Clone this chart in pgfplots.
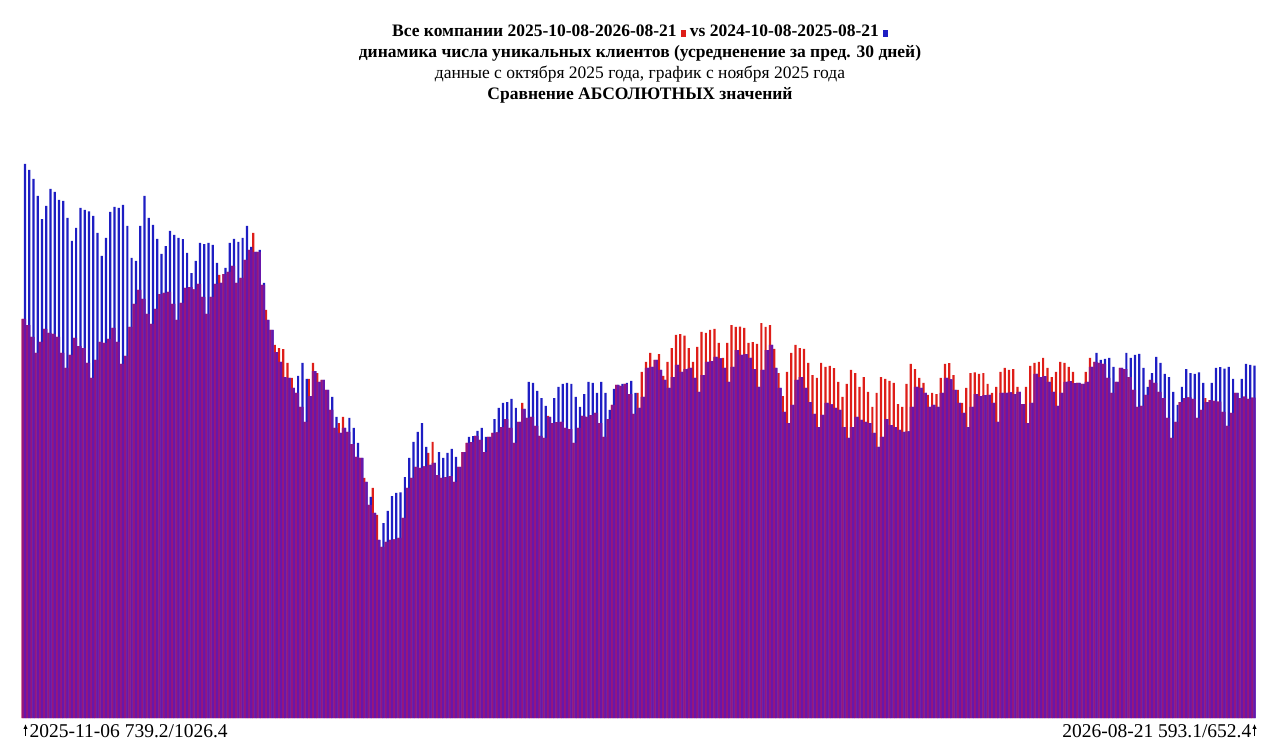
\documentclass[border=0pt]{standalone}
\usepackage{fontspec}
\setmainfont{Liberation Serif}
\usepackage{pgfplots}
\usepackage{pgfplotstable}
\pgfplotsset{compat=1.18}
\usetikzlibrary{arrows.meta}
\definecolor{cRed}{RGB}{222,30,25}
\definecolor{cBlue}{RGB}{30,30,195}
\definecolor{cPurA}{RGB}{150,22,125}
\definecolor{cPurB}{RGB}{105,22,170}
\pgfplotstableread{
i r b
0 739.2 1026.4
1 727.8 1014.9
2 705.6 998.2
3 676.0 966.7
4 696.4 924.1
5 720.4 948.2
6 713.0 979.7
7 711.2 974.2
8 705.6 959.3
9 676.0 957.5
10 648.2 926.0
11 672.3 883.4
12 703.8 907.5
13 688.9 944.5
14 685.2 940.8
15 657.5 938.0
16 629.7 929.7
17 663.0 898.2
18 696.4 855.6
19 694.5 889.0
20 701.9 937.1
21 722.3 946.4
22 696.4 944.5
23 655.6 950.1
24 670.4 911.2
25 724.1 851.9
26 766.7 846.4
27 792.7 911.2
28 776.0 966.7
29 748.2 926.0
30 729.7 913.0
31 757.5 887.1
32 785.2 859.3
33 787.1 874.1
34 789.0 901.9
35 766.7 894.5
36 737.1 889.0
37 768.6 887.0
38 796.4 861.2
39 798.0 824.1
40 794.0 846.4
41 803.8 879.7
42 779.7 877.8
43 748.2 879.7
44 779.7 876.0
45 803.8 842.7
46 820.4 805.6
47 822.0 833.4
48 826.0 879.7
49 837.1 887.1
50 805.6 881.6
51 814.9 889.0
52 848.2 911.2
53 866.7 872.3
54 898.2 863.0
55 863.0 866.7
56 801.9 805.6
57 755.6 737.1
58 718.6 718.6
59 690.8 677.8
60 685.2 659.3
61 683.0 631.5
62 657.5 629.7
63 629.7 611.2
64 601.9 633.4
65 576.0 657.5
66 548.2 627.8
67 627.8 596.3
68 657.5 642.6
69 638.9 622.3
70 626.0 626.0
71 607.5 607.5
72 570.4 594.5
73 537.1 557.5
74 546.3 527.8
75 557.5 537.1
76 529.7 555.6
77 507.4 537.1
78 483.4 509.3
79 481.5 481.5
80 444.5 437.1
81 394.5 409.3
82 426.0 379.7
83 376.0 329.7
84 316.7 361.1
85 326.0 383.4
86 329.7 411.1
87 331.0 416.7
88 333.4 418.0
89 370.4 446.3
90 426.0 481.5
91 444.5 511.2
92 464.9 529.7
93 463.0 546.3
94 466.0 501.9
95 490.8 468.6
96 511.2 472.3
97 450.0 492.6
98 444.5 481.5
99 446.3 490.8
100 448.0 498.2
101 437.1 483.4
102 464.9 464.9
103 492.6 492.6
104 509.3 520.4
105 511.0 522.0
106 522.3 531.5
107 514.9 537.1
108 492.6 520.4
109 520.4 520.4
110 527.8 553.7
111 529.0 574.1
112 538.9 583.4
113 553.7 585.2
114 537.1 590.8
115 509.3 574.1
116 548.2 548.2
117 583.4 572.3
118 555.6 622.3
119 557.5 620.4
120 540.8 605.6
121 522.3 592.6
122 518.6 577.8
123 559.3 557.5
124 546.3 592.6
125 548.0 613.0
126 548.2 618.6
127 537.1 620.4
128 535.2 618.6
129 509.3 594.5
130 537.1 576.0
131 559.3 600.0
132 557.5 622.3
133 561.0 620.4
134 564.9 601.9
135 546.3 622.3
136 520.4 601.9
137 553.7 570.4
138 579.7 609.3
139 616.7 616.7
140 614.9 618.6
141 618.6 620.4
142 600.0 624.1
143 563.0 601.9
144 601.9 574.1
145 640.8 594.5
146 659.3 648.2
147 676.0 650.1
148 663.0 663.0
149 674.0 644.5
150 633.4 626.0
151 659.3 611.2
152 685.2 631.5
153 709.3 653.8
154 711.0 640.8
155 708.0 646.3
156 685.2 648.2
157 659.3 629.7
158 687.1 603.8
159 714.9 635.2
160 713.0 659.3
161 718.6 661.0
162 720.4 668.6
163 694.5 666.0
164 666.7 648.2
165 694.5 622.3
166 727.8 650.1
167 724.1 681.5
168 725.0 672.3
169 722.3 674.0
170 694.5 666.7
171 696.0 646.3
172 693.0 613.0
173 731.5 644.5
174 724.1 681.5
175 727.8 690.8
176 683.4 648.2
177 638.9 611.2
178 596.3 566.7
179 640.8 546.3
180 676.0 579.7
181 690.8 626.0
182 685.2 631.5
183 683.4 611.2
184 657.5 585.2
185 635.2 563.0
186 629.7 538.9
187 657.5 561.2
188 650.1 583.4
189 652.0 581.0
190 648.0 574.1
191 622.3 570.4
192 594.5 538.9
193 618.6 518.6
194 644.5 538.9
195 638.9 557.5
196 613.0 551.9
197 631.5 548.2
198 603.8 546.0
199 576.0 527.8
200 601.9 501.9
201 631.5 520.4
202 627.8 553.7
203 624.1 542.6
204 620.4 538.9
205 581.5 533.4
206 576.0 529.7
207 618.6 531.0
208 655.6 576.0
209 646.3 613.0
210 629.7 611.2
211 620.4 601.9
212 598.2 576.0
213 601.9 579.7
214 600.0 576.0
215 629.7 601.9
216 655.6 629.7
217 657.0 627.0
218 635.2 607.5
219 607.5 583.4
220 583.4 564.9
221 611.2 538.9
222 638.9 576.0
223 640.0 600.0
224 637.1 596.3
225 638.9 598.0
226 618.6 598.2
227 601.9 583.4
228 613.0 548.2
229 640.8 601.9
230 648.2 601.9
231 644.5 603.0
232 646.3 600.0
233 613.0 603.8
234 581.5 581.5
235 613.0 546.3
236 651.9 583.4
237 657.5 637.1
238 659.3 631.5
239 666.7 633.0
240 648.2 622.3
241 631.5 603.8
242 640.8 577.8
243 659.3 601.9
244 657.5 622.3
245 650.1 624.0
246 640.8 620.0
247 620.4 620.4
248 618.6 619.0
249 640.8 622.3
250 666.7 650.1
251 659.3 676.0
252 657.5 663.0
253 656.0 665.0
254 629.7 666.7
255 601.9 650.1
256 622.3 622.3
257 648.2 648.2
258 646.3 676.0
259 631.5 666.7
260 607.5 672.3
261 576.0 674.1
262 578.0 648.2
263 598.2 613.0
264 626.0 638.9
265 620.4 668.6
266 603.8 657.5
267 592.6 637.1
268 555.6 631.5
269 518.6 603.8
270 548.2 579.7
271 585.2 613.0
272 592.6 646.3
273 594.0 638.9
274 591.0 637.1
275 555.6 640.0
276 570.4 620.4
277 592.6 585.2
278 588.9 620.4
279 587.1 648.2
280 586.0 650.0
281 566.7 647.0
282 540.8 650.1
283 564.9 627.8
284 601.9 601.9
285 592.6 627.8
286 595.0 655.6
287 591.0 654.0
288 593.1 652.4
}\data
\begin{document}
\begin{tikzpicture}
\path[use as bounding box] (0bp,0bp) rectangle (1280bp,756bp);
\begin{axis}[
  at={(21.7bp,38bp)}, anchor=south west,
  scale only axis, width=1233.8bp, height=568bp,
  xmin=-0.5, xmax=288.5, ymin=0, ymax=1051.9,
  hide axis, clip=false]
\addplot[ybar, bar width=0.52, bar shift=-0.25, fill=cRed, draw=none] table[x=i,y=r]{\data};
\addplot[ybar, bar width=0.52, bar shift=0.25, fill=cBlue, draw=none] table[x=i,y=b]{\data};
\addplot[ybar, bar width=0.52, bar shift=-0.25, fill=cPurA, draw=none] table[x=i,y expr={min(\thisrow{r},\thisrow{b})}]{\data};
\addplot[ybar, bar width=0.52, bar shift=0.25, fill=cPurB, draw=none] table[x=i,y expr={min(\thisrow{r},\thisrow{b})}]{\data};
\end{axis}
\node[anchor=base, inner sep=0pt, font=\bfseries\fontsize{17.5bp}{21bp}\selectfont] at (640bp,719bp)
  {Все компании 2025-10-08-2026-08-21 \textcolor{cRed}{\rule{4.5bp}{7bp}} vs 2024-10-08-2025-08-21 \textcolor{cBlue}{\rule{4.5bp}{7bp}}};
\node[anchor=base, inner sep=0pt, font=\bfseries\fontsize{17.5bp}{21bp}\selectfont] at (640bp,698bp)
  {динамика числа уникальных клиентов (усредненение за пред. 30 дней)};
\node[anchor=base, inner sep=0pt, font=\fontsize{17.5bp}{21bp}\selectfont] at (640bp,677bp)
  {данные с октября 2025 года, график с ноября 2025 года};
\node[anchor=base, inner sep=0pt, font=\bfseries\fontsize{17.5bp}{21bp}\selectfont] at (640bp,656bp)
  {Сравнение АБСОЛЮТНЫХ значений};
\node[anchor=base west, inner sep=0pt, font=\fontsize{19.5bp}{23bp}\selectfont] at (29.5bp,19bp)
  {2025-11-06 739.2/1026.4};
\node[anchor=base east, inner sep=0pt, font=\fontsize{19.5bp}{23bp}\selectfont] at (1251.5bp,19bp)
  {2026-08-21 593.1/652.4};
\draw[line width=1.1bp, -{Latex[length=5bp,width=4.5bp]}] (25.5bp,20bp) -- (25.5bp,32bp);
\draw[line width=1.1bp, -{Latex[length=5bp,width=4.5bp]}] (1254.5bp,20bp) -- (1254.5bp,32bp);
\end{tikzpicture}
\end{document}
